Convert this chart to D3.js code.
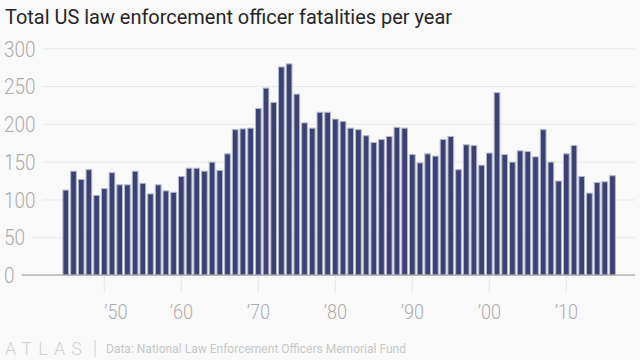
<!DOCTYPE html>
<html><head><meta charset="utf-8">
<script src="https://cdn.jsdelivr.net/npm/d3@7"></script>
<style>
html,body{margin:0;padding:0;background:#f9f9f9;}
svg{display:block;font-family:Roboto,"Noto Sans",sans-serif;}
</style>
</head><body>
<svg id="c" width="640" height="360"></svg>
<script>
const years = [1945,1946,1947,1948,1949,1950,1951,1952,1953,1954,1955,1956,1957,1958,1959,
1960,1961,1962,1963,1964,1965,1966,1967,1968,1969,1970,1971,1972,1973,1974,1975,1976,1977,1978,1979,
1980,1981,1982,1983,1984,1985,1986,1987,1988,1989,1990,1991,1992,1993,1994,1995,1996,1997,1998,1999,
2000,2001,2002,2003,2004,2005,2006,2007,2008,2009,2010,2011,2012,2013,2014,2015,2016];
const fatalities = [113,138,127,140,106,115,136,120,120,138,122,108,120,112,110,
131,142,142,138,150,139,161,193,194,195,221,248,229,276,280,240,202,195,216,216,
207,204,195,193,185,176,180,184,196,195,160,149,161,158,180,184,140,173,172,146,
162,242,160,150,165,164,157,193,150,125,161,172,131,109,123,124,132];
const xTickYears = [1950,1960,1970,1980,1990,2000,2010];
const xTickLabels = ["\u201950","\u201960","\u201970","\u201980","\u201990","\u201900","\u201910"];
const yTicks = [0,50,100,150,200,250,300];
const title = "Total US law enforcement officer fatalities per year";
const source = "Data: National Law Enforcement Officers Memorial Fund";

const svg = d3.select("#c");
svg.append("rect").attr("width",640).attr("height",360).attr("fill","#f9f9f9");

function condense(sel, f){
  sel.each(function(){
    const w = this.getComputedTextLength();
    d3.select(this).attr("textLength", w*f).attr("lengthAdjust","spacingAndGlyphs");
  });
}
function fitTo(sel, w){
  sel.attr("textLength", w).attr("lengthAdjust","spacingAndGlyphs");
}

const x = d3.scaleBand().domain(years).range([61.95, 616.35]).paddingInner(0.13).paddingOuter(0.065);
const y = d3.scaleLinear().domain([0,300]).range([275, 48.3]);

// title
svg.append("text").attr("x",5).attr("y",23.5).attr("font-size",20).attr("fill","#262626")
  .text(title).call(fitTo, 447);

// y axis with gridlines
const yAxis = svg.append("g").call(d3.axisLeft(y).tickValues(yTicks).tickSize(0).tickFormat(d3.format("d")));
yAxis.attr("font-family",null).attr("font-size",null);
yAxis.select(".domain").remove();
yAxis.selectAll(".tick text").attr("x",4).attr("dy","0.35em").attr("text-anchor","start")
  .attr("font-size",22).attr("font-weight",300).attr("fill","#acacac").call(condense, 0.86);
yAxis.selectAll(".tick").each(function(d){
  const t = d3.select(this);
  const w = +t.select("text").attr("textLength");
  t.select("line").attr("x1", 4 + w + 7).attr("x2", 635)
   .attr("stroke", "#e8e8e8").attr("stroke-width", 1);
});

// x axis
const xAxis = svg.append("g").attr("transform","translate(0,275)")
  .call(d3.axisBottom(x).tickValues(xTickYears).tickSize(18).tickFormat((d,i)=>xTickLabels[i]));
xAxis.attr("font-family",null).attr("font-size",null);
xAxis.select(".domain").remove();
xAxis.selectAll(".tick line").attr("stroke","#e6e6e6");
xAxis.selectAll(".tick text").attr("y",44).attr("dy",0).attr("font-size",21).attr("font-weight",300)
  .attr("fill","#acacac")
  .attr("text-anchor",(d,i)=> i===0 ? "start" : "middle").call(condense, 0.86);

// bars
svg.append("g").selectAll("rect").data(years).join("rect")
  .attr("x", d => x(d) + 0.5)
  .attr("width", x.bandwidth() - 1)
  .attr("y", (d,i) => y(fatalities[i]) + 0.5)
  .attr("height", (d,i) => y(0) - y(fatalities[i]) - 0.5)
  .attr("fill","#3b4170").attr("stroke","#b4b7cd").attr("stroke-width",1);

// baseline
svg.append("line").attr("x1",22).attr("x2",635).attr("y1",275).attr("y2",275)
  .attr("stroke","#9a9a9a").attr("stroke-width",1.2);

// footer
svg.append("text").attr("x",5).attr("y",355).attr("font-size",18).attr("font-weight",300)
  .attr("fill","#d2d2d2").text("ATLAS").attr("textLength",77).attr("lengthAdjust","spacing");
svg.append("line").attr("x1",95).attr("x2",95).attr("y1",340).attr("y2",357).attr("stroke","#d2d2d2");
svg.append("text").attr("x",106).attr("y",353).attr("font-size",13).attr("fill","#c8c8c8")
  .text(source).call(fitTo, 300);
</script>
</body></html>
